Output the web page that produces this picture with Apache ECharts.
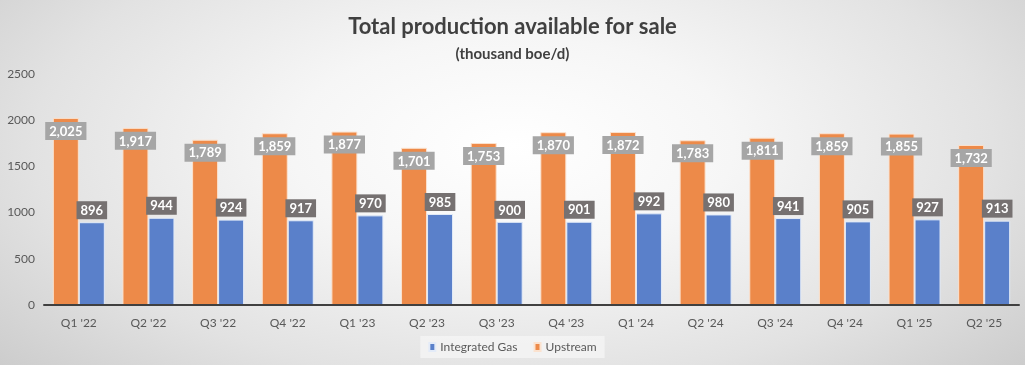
<!DOCTYPE html>
<html>
<head>
<meta charset="utf-8">
<script src="https://cdn.jsdelivr.net/npm/echarts@6/dist/echarts.min.js"></script>
<style>
html,body{margin:0;padding:0;}
body{width:1025px;height:365px;overflow:hidden;
background: radial-gradient(ellipse 72% 100% at 50% 40%, #ffffff 0%, #f6f6f6 30%, #e2e2e2 65%, #c6c6c6 100%);}
#chart{width:1025px;height:365px;}
</style>
</head>
<body>
<div id="chart"></div>
<script>
const categories = ["Q1 '22","Q2 '22","Q3 '22","Q4 '22","Q1 '23","Q2 '23","Q3 '23","Q4 '23","Q1 '24","Q2 '24","Q3 '24","Q4 '24","Q1 '25","Q2 '25"];
const upstream = [2025,1917,1789,1859,1877,1701,1753,1870,1872,1783,1811,1859,1855,1732];
const integratedGas = [896,944,924,917,970,985,900,901,992,980,941,905,927,913];
const yTicks = [0,500,1000,1500,2000,2500];

const FONT = 'Lato, "Open Sans", sans-serif';
const fmt = v => v.toLocaleString('en-US');

const chart = echarts.init(document.getElementById('chart'));
chart.setOption({
  backgroundColor: 'transparent',
  animation: false,
  textStyle: {fontFamily: FONT},
  title: [{
    text: 'Total production available for sale',
    left: 'center', top: 11,
    textStyle: {fontSize: 22, fontWeight: 'bold', color: '#404040', fontFamily: FONT}
  },{
    text: '(thousand boe/d)',
    left: 'center', top: 42,
    textStyle: {fontSize: 15, fontWeight: 'bold', color: '#404040', fontFamily: FONT}
  }],
  legend: {
    data: ['Integrated Gas','Upstream'],
    top: 336, left: 'center',
    icon: 'rect', itemWidth: 6, itemHeight: 8, itemGap: 16,
    backgroundColor: 'rgba(245,245,245,0.75)',
    padding: [5, 8],
    textStyle: {fontSize: 12, color: '#595959', fontFamily: FONT}
  },
  grid: {left: 44, right: 6, top: 74, bottom: 60, containLabel: false},
  xAxis: {
    type: 'category', data: categories,
    z: 5,
    axisLine: {lineStyle: {color: '#404040', width: 2}},
    axisTick: {show: false, length: 0, lineStyle: {color: 'transparent'}},
    minorTick: {show: false},
    splitLine: {show: false},
    axisLabel: {fontSize: 12, color: '#595959', margin: 12, fontFamily: FONT}
  },
  yAxis: {
    type: 'value', min: yTicks[0], max: yTicks[yTicks.length-1], interval: 500,
    splitLine: {show: false},
    axisLine: {show: false}, axisTick: {show: false},
    axisLabel: {fontSize: 12, color: '#595959', margin: 9, fontFamily: FONT,
      formatter: v => String(v)}
  },
  series: [{
    name: 'Upstream', type: 'bar', data: upstream,
    barWidth: 26, barGap: '0%',
    itemStyle: {color: '#ED8A49', borderColor: '#fbe2cf', borderWidth: 1},
    label: {
      show: true, position: 'insideTop', distance: 4,
      formatter: p => fmt(p.value),
      backgroundColor: '#a6a6a6', color: '#ffffff', fontWeight: 'bold',
      fontSize: 13, padding: [3, 4, 2, 4], fontFamily: FONT
    }
  },{
    name: 'Integrated Gas', type: 'bar', data: integratedGas,
    barWidth: 26,
    itemStyle: {color: '#5A80CA', borderColor: '#e3ebf8', borderWidth: 1},
    label: {
      show: true, position: 'top', distance: 3,
      formatter: p => fmt(p.value),
      backgroundColor: '#767171', color: '#ffffff', fontWeight: 'bold',
      fontSize: 13, padding: [3, 4, 2, 4], fontFamily: FONT
    }
  }]
});
</script>
</body>
</html>
